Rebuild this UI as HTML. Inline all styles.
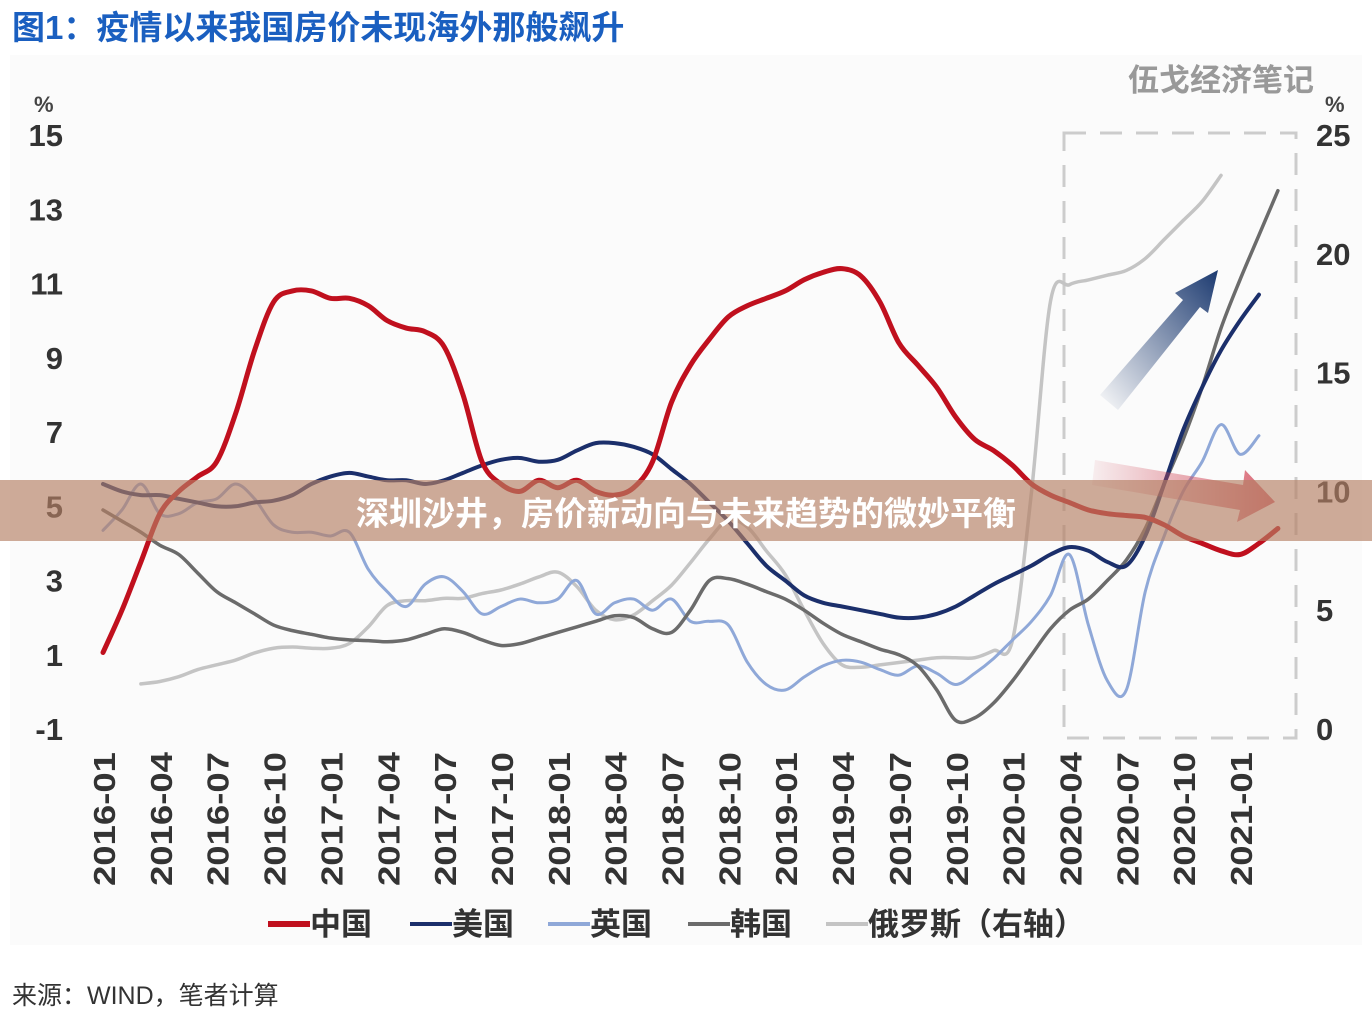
<!DOCTYPE html>
<html><head><meta charset="utf-8"><style>
html,body{margin:0;padding:0;background:#fff;width:1372px;height:1022px;overflow:hidden}
svg{display:block}
text{font-family:"Liberation Sans","Noto Sans CJK SC",sans-serif}
</style></head><body>
<svg id="c" width="1372" height="1022">
<defs>
<linearGradient id="gb" x1="0" y1="1" x2="1" y2="0"><stop offset="0" stop-color="#1c3a70" stop-opacity="0"/><stop offset="1" stop-color="#1c3a70"/></linearGradient>
<linearGradient id="gr" x1="0" y1="0" x2="1" y2="0"><stop offset="0" stop-color="#d05060" stop-opacity="0.1"/><stop offset="1" stop-color="#d04050"/></linearGradient>
</defs>
<rect x="10" y="55" width="1352" height="890" fill="#fbfbfb"/>
<text x="12" y="39" font-size="33" font-weight="bold" fill="#1a5fc0">图1：疫情以来我国房价未现海外那般飙升</text>
<text x="1128" y="91" font-size="31" font-weight="bold" fill="#999">伍戈经济笔记</text>
<text x="34" y="112" font-size="22" font-weight="bold" fill="#444">%</text>
<text x="1325" y="112" font-size="22" font-weight="bold" fill="#444">%</text>
<rect x="1064" y="133" width="232" height="605" fill="none" stroke="#ccc" stroke-width="3" stroke-dasharray="22,14"/>
<g id="axes"></g>
<g id="lines"></g>
<polygon points="1100,395 1183,300 1175,293 1218,270 1208,313 1200,307 1118,410" fill="url(#gb)"/>
<polygon points="1095,460 1243,485 1245,470 1275,502 1237,522 1240,510 1092,485" fill="url(#gr)" opacity="0.8"/>
<g id="legend"></g>
<text x="12" y="1004" font-size="25" fill="#333">来源：WIND，笔者计算</text>
<rect x="0" y="480" width="1372" height="61" fill="rgb(180,128,100)" opacity="0.66"/>
<text x="686" y="525" font-size="33" font-weight="bold" fill="#fff" text-anchor="middle">深圳沙井，房价新动向与未来趋势的微妙平衡</text>
</svg>
<script>
const leftTicks=[15,13,11,9,7,5,3,1,-1];
const rightTicks=[25,20,15,10,5,0];
const xLabels=["2016-01","2016-04","2016-07","2016-10","2017-01","2017-04","2017-07","2017-10","2018-01","2018-04","2018-07","2018-10","2019-01","2019-04","2019-07","2019-10","2020-01","2020-04","2020-07","2020-10","2021-01"];
const china=[1.06,2.2,3.5,4.8,5.4,5.8,6.2,7.5,9.2,10.5,10.8,10.8,10.6,10.6,10.4,10.0,9.8,9.7,9.3,8.0,6.2,5.6,5.4,5.7,5.5,5.7,5.4,5.3,5.5,6.2,7.8,8.8,9.5,10.1,10.4,10.6,10.8,11.1,11.3,11.4,11.2,10.5,9.4,8.8,8.2,7.4,6.8,6.5,6.1,5.6,5.3,5.1,4.9,4.8,4.75,4.7,4.5,4.2,4.0,3.8,3.7,4.0,4.4];
const usa=[5.6,5.4,5.3,5.3,5.2,5.1,5.0,5.0,5.1,5.15,5.3,5.6,5.8,5.9,5.8,5.7,5.7,5.6,5.7,5.9,6.1,6.25,6.3,6.2,6.25,6.5,6.7,6.7,6.6,6.4,6.0,5.6,5.1,4.6,4.0,3.4,3.0,2.6,2.4,2.3,2.2,2.1,2.0,2.0,2.1,2.3,2.6,2.9,3.15,3.4,3.7,3.9,3.8,3.5,3.4,4.2,5.6,7.05,8.2,9.2,10.0,10.7];
const uk=[4.35,4.9,5.6,4.8,4.8,5.1,5.2,5.6,5.2,4.5,4.3,4.3,4.2,4.3,3.3,2.7,2.3,2.9,3.1,2.7,2.1,2.3,2.5,2.4,2.5,3.0,2.1,2.4,2.5,2.2,2.5,1.9,1.9,1.8,0.8,0.2,0.05,0.4,0.7,0.85,0.8,0.6,0.45,0.7,0.5,0.2,0.5,0.9,1.4,1.9,2.6,3.7,1.8,0.3,0.05,2.7,4.2,5.4,6.2,7.2,6.4,6.9];
const korea=[4.9,4.6,4.3,3.95,3.7,3.2,2.7,2.4,2.1,1.8,1.65,1.55,1.45,1.4,1.38,1.35,1.4,1.55,1.7,1.6,1.4,1.25,1.3,1.45,1.6,1.75,1.9,2.05,2.0,1.7,1.6,2.2,3.0,3.05,2.9,2.7,2.5,2.2,1.85,1.55,1.35,1.15,1.0,0.7,0.05,-0.77,-0.7,-0.3,0.3,1.0,1.7,2.2,2.5,3.0,3.55,4.4,5.6,6.8,8.2,9.8,11.1,12.3,13.5];
const russia=[null,null,1.9,2.0,2.2,2.5,2.7,2.9,3.2,3.4,3.45,3.4,3.4,3.6,4.3,5.2,5.4,5.4,5.5,5.5,5.7,5.85,6.1,6.4,6.6,6.0,5.0,4.6,4.8,5.4,6.05,7.0,8.0,8.8,8.5,7.5,6.5,5.0,3.6,2.7,2.6,2.7,2.8,2.9,3.0,3.0,3.0,3.3,3.75,10,18.0,18.7,18.9,19.1,19.3,19.8,20.6,21.4,22.2,23.3];
const seriesNames=["中国","美国","英国","韩国","俄罗斯（右轴）"];

const NS="http://www.w3.org/2000/svg";
const xS=i=>103+i*18.95;
const yL=v=>135+(15-v)*37.125;
const yR=v=>135+(25-v)*23.76;
function mk(tag,attrs,parent){const e=document.createElementNS(NS,tag);for(const k in attrs)e.setAttribute(k,attrs[k]);parent.appendChild(e);return e;}
const axes=document.getElementById('axes');
leftTicks.forEach(t=>{const e=mk('text',{x:63,y:yL(t)+11,'font-size':31,'font-weight':'bold','text-anchor':'end',fill:'#333'},axes);e.textContent=t;

});
rightTicks.forEach(t=>{const e=mk('text',{x:1316,y:yR(t)+11,'font-size':31,'font-weight':'bold',fill:'#333'},axes);e.textContent=t;

});
xLabels.forEach((l,k)=>{const x=xS(k*3)+12;const e=mk('text',{x:x,y:752,'font-size':31,'font-weight':'bold',fill:'#333','text-anchor':'end',textLength:134,lengthAdjust:'spacingAndGlyphs',transform:`rotate(-90 ${x} 752)`},axes);e.textContent=l;

});
function path(pts){let d=`M${pts[0][0]},${pts[0][1]}`;for(let i=0;i<pts.length-1;i++){const p0=pts[i-1]||pts[i],p1=pts[i],p2=pts[i+1],p3=pts[i+2]||p2;
d+=` C${p1[0]+(p2[0]-p0[0])/6},${p1[1]+(p2[1]-p0[1])/6} ${p2[0]-(p3[0]-p1[0])/6},${p2[1]-(p3[1]-p1[1])/6} ${p2[0]},${p2[1]}`;}return d;}
const lines=document.getElementById('lines');
function draw(arr,ys,color,w,name){const pts=[];arr.forEach((v,i)=>{if(v!==null)pts.push([xS(i),ys(v)]);});
const p=mk('path',{d:path(pts),fill:'none',stroke:color,'stroke-width':w,'stroke-linejoin':'round','stroke-linecap':'round'},lines);

}
draw(russia,yR,'#c4c4c4',3.5,'russia-line');
draw(uk,yL,'#8fa8d8',3,'uk-line');
draw(korea,yL,'#6b6b6b',3.5,'korea-line');
draw(usa,yL,'#1b2f6b',4,'usa-line');
draw(china,yL,'#c0101e',5,'china-line');
const legend=document.getElementById('legend');
const lcol=['#c0101e','#1b2f6b','#8fa8d8','#6b6b6b','#c4c4c4'];
const lx=[268,410,548,688,826];
seriesNames.forEach((n,i)=>{const g=mk('g',{},legend);


mk('line',{x1:lx[i],y1:924,x2:lx[i]+42,y2:924,stroke:lcol[i],'stroke-width':i==0?6:4},g);
const t=mk('text',{x:lx[i]+42,y:935,'font-size':31,'font-weight':'bold',fill:'#333'},g);t.textContent=n;});
</script>
</body></html>
